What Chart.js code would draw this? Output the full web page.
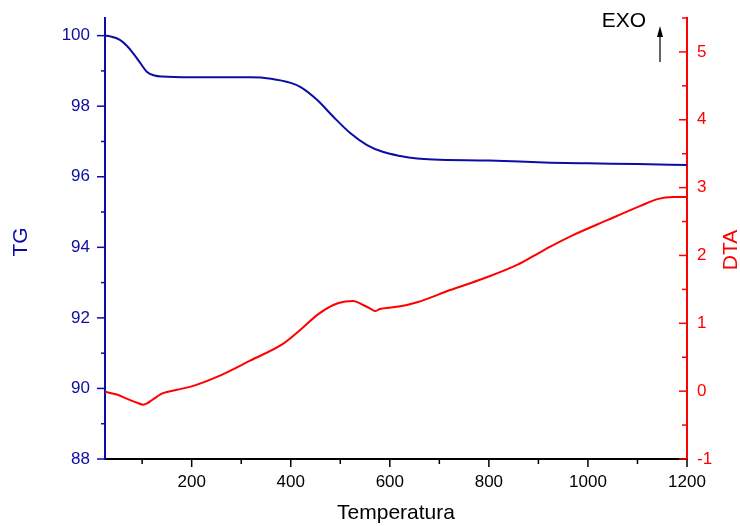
<!DOCTYPE html>
<html>
<head>
<meta charset="utf-8">
<script src="https://cdn.jsdelivr.net/npm/chart.js@4/dist/chart.umd.min.js"></script>
<style>
    body { margin: 0; background: #fff; }
    canvas { display: block; }
</style>
</head>
<body>
<canvas id="tgChart" width="740" height="526"></canvas>
<script>
// TG curve (mass %) vs temperature
const tgTemp = [25, 35, 55, 70, 82, 95, 110, 125, 140, 200, 250, 318, 360, 400, 420, 453, 486, 520, 554, 587, 621, 655, 688, 800, 924, 1000, 1100, 1200];
const tgValues = [100.0, 99.98, 99.88, 99.7, 99.5, 99.25, 98.97, 98.87, 98.84, 98.82, 98.82, 98.82, 98.78, 98.66, 98.54, 98.18, 97.70, 97.24, 96.90, 96.70, 96.59, 96.52, 96.49, 96.46, 96.40, 96.38, 96.36, 96.33];

// DTA curve vs temperature
const dtaTemp = [25, 49, 69, 90, 102, 110, 120, 130, 142, 170, 200, 251, 318, 385, 419, 453, 486, 510, 526, 546, 560, 570, 580, 587, 621, 655, 722, 789, 857, 904, 924, 970, 1039, 1106, 1140, 1173, 1193, 1200];
const dtaValues = [-0.01, -0.05, -0.11, -0.17, -0.20, -0.18, -0.13, -0.08, -0.03, 0.02, 0.07, 0.21, 0.45, 0.70, 0.90, 1.12, 1.27, 1.32, 1.33, 1.27, 1.22, 1.18, 1.21, 1.22, 1.25, 1.31, 1.49, 1.66, 1.86, 2.05, 2.13, 2.30, 2.52, 2.73, 2.83, 2.86, 2.86, 2.86];

// axis ranges and tick values
const xRange = [25, 1200];
const tgRange = [88, 100.5];
const dtaRange = [-1, 5.5];
const xTicks = [200, 400, 600, 800, 1000, 1200];
const xMinorTicks = [100, 300, 500, 700, 900, 1100];
const tgTicks = [88, 90, 92, 94, 96, 98, 100];
const tgMinorTicks = [89, 91, 93, 95, 97, 99];
const dtaTicks = [-1, 0, 1, 2, 3, 4, 5];
const dtaMinorTicks = [-0.5, 0.5, 1.5, 2.5, 3.5, 4.5, 5.5];

const BLUE = '#0c0ca6';
const RED = '#ff0000';
const FONT = '"Liberation Sans", Arial, sans-serif';

// draws major + minor tick marks, axis titles and the EXO arrow
const decorPlugin = {
    id: 'decor',
    afterDraw(chart) {
        const ctx = chart.ctx;
        const area = chart.chartArea;
        const sx = chart.scales.x, sl = chart.scales.y, sr = chart.scales.y1;
        ctx.save();
        ctx.lineWidth = 1.5;

        // bottom axis, ticks pointing down
        ctx.strokeStyle = '#000';
        [[xTicks, 8], [xMinorTicks, 5]].forEach(([vals, len]) => {
            vals.forEach(v => {
                const px = sx.getPixelForValue(v);
                ctx.beginPath();
                ctx.moveTo(px, area.bottom);
                ctx.lineTo(px, area.bottom + len);
                ctx.stroke();
            });
        });

        // left axis, ticks pointing left
        ctx.strokeStyle = BLUE;
        [[tgTicks, 8], [tgMinorTicks, 4]].forEach(([vals, len]) => {
            vals.forEach(v => {
                const py = sl.getPixelForValue(v);
                ctx.beginPath();
                ctx.moveTo(area.left, py);
                ctx.lineTo(area.left - len, py);
                ctx.stroke();
            });
        });

        // right axis, ticks pointing inward
        ctx.strokeStyle = RED;
        [[dtaTicks, 8], [dtaMinorTicks, 5]].forEach(([vals, len]) => {
            vals.forEach(v => {
                const py = sr.getPixelForValue(v);
                ctx.beginPath();
                ctx.moveTo(area.right, py);
                ctx.lineTo(area.right - len, py);
                ctx.stroke();
            });
        });

        // axis titles
        ctx.font = '21px ' + FONT;
        ctx.textAlign = 'center';
        ctx.textBaseline = 'middle';
        ctx.fillStyle = '#000';
        ctx.fillText('Temperatura', 396, 513);

        ctx.save();
        ctx.translate(21, 242);
        ctx.rotate(-Math.PI / 2);
        ctx.fillStyle = BLUE;
        ctx.fillText('TG', 0, 0);
        ctx.restore();

        ctx.save();
        ctx.translate(731, 250);
        ctx.rotate(-Math.PI / 2);
        ctx.fillStyle = RED;
        ctx.fillText('DTA', 0, 0);
        ctx.restore();

        // EXO label and arrow
        ctx.fillStyle = '#000';
        ctx.fillText('EXO', 624, 21);
        ctx.strokeStyle = '#333';
        ctx.lineWidth = 1.5;
        ctx.beginPath();
        ctx.moveTo(660, 62);
        ctx.lineTo(660, 34);
        ctx.stroke();
        ctx.beginPath();
        ctx.moveTo(660, 26);
        ctx.lineTo(663, 37);
        ctx.lineTo(657, 37);
        ctx.closePath();
        ctx.fill();

        ctx.restore();
    }
};

const toPoints = (xs, ys) => xs.map((x, i) => ({ x: x, y: ys[i] }));
const setTicks = (vals) => (scale) => { scale.ticks = vals.map(v => ({ value: v })); };

new Chart(document.getElementById('tgChart'), {
    type: 'line',
    data: {
        datasets: [{
            label: 'TG',
            data: toPoints(tgTemp, tgValues),
            borderColor: BLUE,
            borderWidth: 2,
            pointRadius: 0,
            cubicInterpolationMode: 'monotone',
            yAxisID: 'y'
        }, {
            label: 'DTA',
            data: toPoints(dtaTemp, dtaValues),
            borderColor: RED,
            borderWidth: 2,
            pointRadius: 0,
            cubicInterpolationMode: 'monotone',
            yAxisID: 'y1'
        }]
    },
    options: {
        responsive: false,
        devicePixelRatio: 1,
        animation: false,
        layout: { padding: { top: 18, left: 0, right: 0, bottom: 0 } },
        plugins: {
            legend: { display: false },
            tooltip: { enabled: false }
        },
        scales: {
            x: {
                type: 'linear',
                min: xRange[0],
                max: xRange[1],
                afterBuildTicks: setTicks(xTicks),
                ticks: {
                    color: '#000',
                    padding: 13,
                    maxRotation: 0,
                    autoSkip: false,
                    callback: (v) => String(v),
                    font: { family: FONT, size: 17 }
                },
                grid: { drawOnChartArea: false, drawTicks: false },
                border: { display: true, color: '#000', width: 2 },
                afterFit: (scale) => {
                    scale.height = 67;
                    scale.paddingLeft = 0;
                    scale.paddingRight = 0;
                }
            },
            y: {
                position: 'left',
                min: tgRange[0],
                max: tgRange[1],
                afterBuildTicks: setTicks(tgTicks),
                ticks: {
                    color: BLUE,
                    padding: 15,
                    autoSkip: false,
                    callback: (v) => String(v),
                    font: { family: FONT, size: 17 }
                },
                grid: { drawOnChartArea: false, drawTicks: false },
                border: { display: true, color: BLUE, width: 2 },
                afterFit: (scale) => {
                    scale.width = 105;
                    scale.paddingTop = 0;
                    scale.paddingBottom = 0;
                }
            },
            y1: {
                position: 'right',
                min: dtaRange[0],
                max: dtaRange[1],
                afterBuildTicks: setTicks(dtaTicks),
                ticks: {
                    color: RED,
                    padding: 10,
                    autoSkip: false,
                    callback: (v) => String(v),
                    font: { family: FONT, size: 17 }
                },
                grid: { drawOnChartArea: false, drawTicks: false },
                border: { display: true, color: RED, width: 2 },
                afterFit: (scale) => {
                    scale.width = 53;
                    scale.paddingTop = 0;
                    scale.paddingBottom = 0;
                }
            }
        }
    },
    plugins: [decorPlugin]
});
</script>
</body>
</html>
